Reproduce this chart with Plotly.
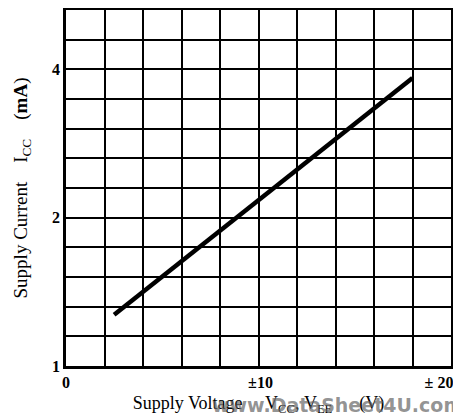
import math
import plotly.graph_objects as go

# Data
supply_voltage = [2.5, 10, 14, 18]          # V (±)
supply_current = [1.27, 2.17, 2.89, 3.84]   # mA

# Axis grid / tick labels
x_grid = [0, 2, 4, 6, 8, 10, 12, 14, 16, 18, 20]
x_labels = ["0", "", "", "", "", "&nbsp;±10", "", "", "", "", "±&nbsp;20&nbsp;&nbsp;&nbsp;&nbsp;&nbsp;&nbsp;"]
y_grid = [2 ** (k / 5) for k in range(13)]
y_labels = ["1", "", "", "", "", "2", "", "", "", "", "4", "", ""]

fig = go.Figure()
fig.add_trace(go.Scatter(
    x=supply_voltage, y=supply_current, mode="lines",
    line=dict(color="black", width=4.5), showlegend=False, hoverinfo="skip"))

serif = "Liberation Serif, Times New Roman, serif"

fig.update_layout(
    width=453, height=408,
    margin=dict(l=58, r=10, t=2, b=50),
    paper_bgcolor="white", plot_bgcolor="white",
    font=dict(family=serif, color="black", size=16),
    xaxis=dict(
        range=[0, 20], tickmode="array", tickvals=x_grid, ticktext=x_labels,
        showgrid=True, gridcolor="black", gridwidth=1.6,
        showline=True, linecolor="black", linewidth=2.5, mirror=True,
        ticks="", zeroline=False, automargin=False, ticklabeloverflow="allow",
        tickfont=dict(family=serif, size=16, color="black", weight="bold"),
        title=dict(text="Supply Voltage&nbsp;&nbsp;&nbsp;&nbsp;&nbsp;V<sub>CC</sub>,&nbsp;V<sub>EE</sub>&nbsp;&nbsp;&nbsp;&nbsp;&nbsp;&nbsp;(V)",
                   font=dict(family=serif, size=18), standoff=12),
    ),
    yaxis=dict(
        type="log", range=[0, math.log10(2 ** (12 / 5))],
        tickmode="array", tickvals=y_grid, ticktext=y_labels,
        showgrid=True, gridcolor="black", gridwidth=1.6,
        showline=True, linecolor="black", linewidth=2.5, mirror=True,
        ticks="", zeroline=False, automargin=False,
        tickfont=dict(family=serif, size=16, color="black", weight="bold"),
        title=dict(text="Supply Current&nbsp;&nbsp;&nbsp;&nbsp;I<sub>CC</sub>&nbsp;&nbsp;&nbsp;&nbsp;(<b>mA</b>)",
                   font=dict(family=serif, size=19), standoff=20),
    ),
)

fig.add_annotation(
    text="www.DataSheet4U.com", xref="paper", yref="paper",
    x=0.374, y=-0.11, xanchor="left", yanchor="middle", showarrow=False,
    font=dict(family="DejaVu Sans, sans-serif", size=19, color="rgba(100,100,100,0.7)", weight="bold"))

fig.write_html("out.html")
